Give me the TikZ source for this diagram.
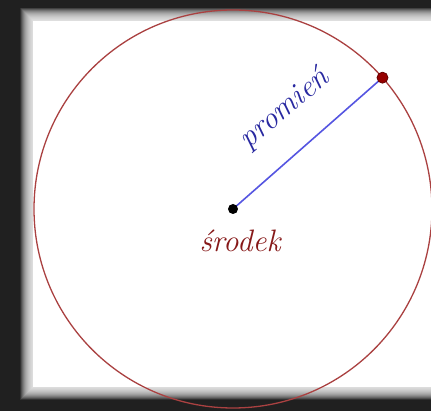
\documentclass[tikz,border=0pt]{standalone}
\usepackage{fontspec}
\usetikzlibrary{calc}
\definecolor{shadowgray}{RGB}{32,32,32}
\definecolor{circlered}{RGB}{170,65,65}
\definecolor{radiusblue}{RGB}{85,85,225}
\definecolor{pointred}{RGB}{150,0,0}
\definecolor{labelred}{RGB}{135,25,25}
\definecolor{labelblue}{RGB}{40,40,160}
\begin{document}
\begin{tikzpicture}[x=1pt, y=1pt, font=\fontsize{31}{36}\selectfont\itshape, line join=round, line cap=round]
	\useasboundingbox (0,0) rectangle (431,411);
	% frame with soft shadow
	\fill[shadowgray] (0,0) rectangle (431,411);
	\fill[white] (33,24) rectangle (431,390);
	\foreach \i in {1,...,26}
	\fill[white, opacity=.08] (33-\i/2,24-\i/2) rectangle (431,390+\i/2);
	\path
	(233,202) coordinate (O)
	(O) ++(41.3:199pt) coordinate (P)
	;
	\draw[circlered, line width=1.3pt] (O) circle (199pt);
	\draw[radiusblue, line width=1.6pt] (O)--(P);
	\fill[black] (O) circle (5pt);
	\filldraw[fill=pointred, draw=black!60!red, line width=.8pt] (P) circle (5.5pt);
	\path ($(O)!.525!(P)$) ++(131.3:33pt) coordinate (T);
	\node[anchor=base, text=labelred] (srodek) at (240,159) {środek};
	\node[anchor=base, rotate=40, text=labelblue] (promien) at (T) {promień};
\end{tikzpicture}
\end{document}
